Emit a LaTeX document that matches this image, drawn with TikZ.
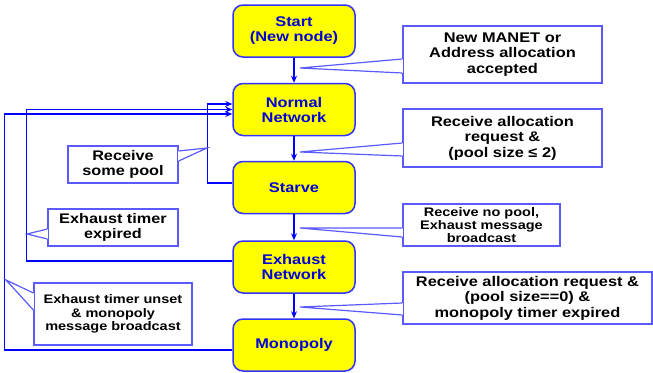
\documentclass[tikz,border=0pt]{standalone}
\usepackage{fontspec}
\setmainfont{Liberation Sans}[FakeStretch=1.17]
\usetikzlibrary{arrows.meta}
\definecolor{boxyellow}{RGB}{255,255,0}
\definecolor{boxblue}{RGB}{50,50,255}
\definecolor{txtblue}{RGB}{0,0,215}
\definecolor{lineblue}{RGB}{0,0,255}
\definecolor{callblue}{RGB}{90,90,255}
% wedge of a callout: #1 node, #2 side anchor, #3 and #4 base y, #5 tip
\newcommand\notewedge[5]{%
  \draw[white, line width=2pt] (#1.#2 |- 0,#3) -- (#1.#2 |- 0,#4);
  \fill[white] (#1.#2 |- 0,#3) -- (#5) -- (#1.#2 |- 0,#4) -- cycle;
  \draw[noteline] (#1.#2 |- 0,#3) -- (#5) -- (#1.#2 |- 0,#4);}
\begin{document}
\begin{tikzpicture}[x=1pt,y=-1pt,
 state/.style={draw=boxblue, line width=1.5pt, fill=boxyellow, rounded corners=10pt,
   minimum width=122pt, minimum height=52pt, inner sep=0pt, align=center, text=txtblue,
   font=\fontsize{14}{15}\selectfont\bfseries},
 note/.style={rectangle, draw=callblue, line width=1.2pt, fill=white, inner sep=0pt,
   align=center},
 noteline/.style={draw=callblue, line width=1.2pt, line join=miter},
 fbig/.style={font=\fontsize{14}{15.5}\selectfont\bfseries},
 fmid/.style={font=\fontsize{13.9}{15.5}\selectfont\bfseries},
 fsmall/.style={font=\fontsize{12.4}{13.2}\selectfont\bfseries},
 conn/.style={draw=lineblue, line width=1.2pt},
 arr/.style={conn, -{Stealth[length=7pt,width=6pt]}}]
\useasboundingbox (0,0) rectangle (653,372);

% states
\node[state] (start)    at (294,31)    {Start\\(New node)};
\node[state] (normal)   at (294,109.5) {Normal\\Network};
\node[state] (starve)   at (294,187.5) {Starve};
\node[state] (exhaust)  at (294,267)   {Exhaust\\Network};
\node[state] (monopoly) at (294,345)   {Monopoly};

% transitions
\draw[arr] (start) -- (normal);
\draw[arr] (normal) -- (starve);
\draw[arr] (starve) -- (exhaust);
\draw[arr] (exhaust) -- (monopoly);
\draw[arr] ([yshift=4.5pt]starve.west) -- ++(-25,0) |- ([yshift=5.5pt]normal.west);
\draw[arr] ([yshift=6pt]exhaust.west) -- ++(-206,0) |- (normal.west);
\draw[arr] ([yshift=-5pt]monopoly.west) -- ++(-228,0) |- ([yshift=-4.5pt]normal.west);

% notes
\node[note, fbig, minimum width=199pt, minimum height=57pt] (n1) at (502.5,54.5)
  {New MANET or\\Address allocation\\accepted};
\node[note, fbig, minimum width=199pt, minimum height=58pt] (n2) at (502.5,138)
  {Receive allocation\\request \&\\(pool size ≤ 2)};
\node[note, fsmall, minimum width=157pt, minimum height=42pt] (n3) at (481.5,225)
  {Receive no pool,\\Exhaust message\\broadcast};
\node[note, fbig, minimum width=249pt, minimum height=52pt] (n4) at (527.5,298)
  {Receive allocation request \&\\(pool size==0) \&\\monopoly timer expired};
\node[note, fmid, minimum width=110pt, minimum height=37pt] (n5) at (123,164.5)
  {Receive\\some pool};
\node[note, fmid, minimum width=130pt, minimum height=37pt] (n6) at (113,227.5)
  {Exhaust timer\\expired};
\node[note, fsmall, minimum width=158pt, minimum height=62pt] (n7) at (113,314)
  {Exhaust timer unset\\\& monopoly\\message broadcast};

\coordinate (t1) at (300,68);
\coordinate (t2) at (300,152);
\coordinate (t3) at (300,228);
\coordinate (t4) at (300,307);
\coordinate (t5) at (207,148);
\coordinate (t6) at (27,234);
\coordinate (t7) at (6,280);
\notewedge{n1}{west}{59}{73}{t1}
\notewedge{n2}{west}{143}{156}{t2}
\notewedge{n3}{west}{228}{237}{t3}
\notewedge{n4}{west}{303}{315}{t4}
\notewedge{n5}{east}{151}{161}{t5}
\notewedge{n6}{west}{229}{239}{t6}
\notewedge{n7}{west}{293}{310}{t7}
\end{tikzpicture}
\end{document}
